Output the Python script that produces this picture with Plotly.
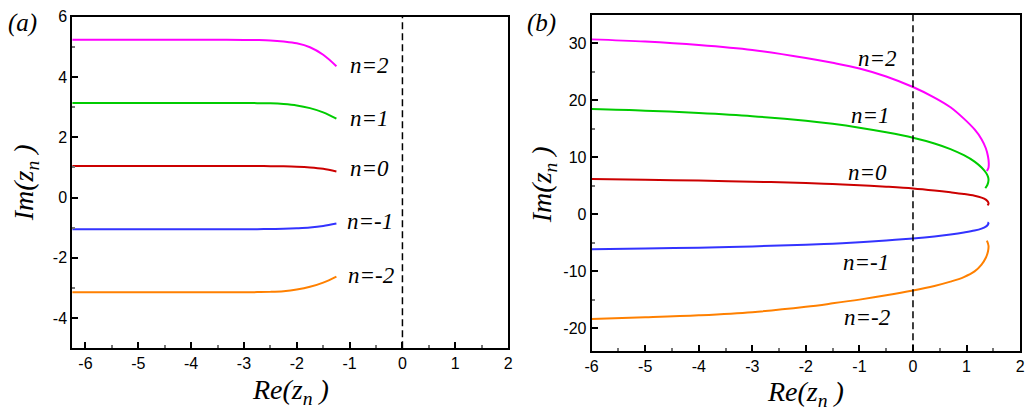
import plotly.graph_objects as go

W, H = 1034, 413

# ---------------- data: panel (a) ----------------
a_x = [-6.25, -5.5, -4.75, -4.0, -3.5, -3.0, -2.75, -2.5, -2.25, -2.0, -1.75, -1.5, -1.25]
a_n2 = [5.236, 5.236, 5.236, 5.236, 5.236, 5.233, 5.228, 5.215, 5.18, 5.12, 4.99, 4.74, 4.36]
a_n1 = [3.14, 3.14, 3.14, 3.14, 3.14, 3.139, 3.136, 3.128, 3.105, 3.06, 2.97, 2.83, 2.62]
a_n0 = [1.047, 1.047, 1.047, 1.047, 1.047, 1.047, 1.046, 1.044, 1.038, 1.025, 1.0, 0.955, 0.87]
a_nm1 = [-1.047, -1.047, -1.047, -1.047, -1.047, -1.047, -1.046, -1.043, -1.035, -1.017, -0.99, -0.94, -0.86]
a_nm2 = [-3.14, -3.14, -3.14, -3.14, -3.14, -3.139, -3.136, -3.128, -3.105, -3.05, -2.96, -2.82, -2.62]

# ---------------- data: panel (b) ----------------
b_n2_x = [-6.0, -5.0, -4.0, -3.0, -2.0, -1.5, -1.0, -0.5, 0.0, 0.4, 0.7, 0.95, 1.15, 1.28, 1.36, 1.40, 1.415, 1.41, 1.38]
b_n2_y = [30.7, 30.32, 29.72, 28.85, 27.45, 26.6, 25.6, 24.2, 22.35, 20.5, 18.8, 16.8, 14.9, 13.2, 11.6, 10.2, 9.0, 8.2, 7.6]

b_n1_x = [-6.0, -5.0, -4.0, -3.0, -2.0, -1.5, -1.0, -0.5, 0.0, 0.4, 0.7, 0.95, 1.15, 1.28, 1.36, 1.40, 1.41, 1.39, 1.35]
b_n1_y = [18.48, 18.2, 17.78, 17.23, 16.43, 15.88, 15.2, 14.4, 13.45, 12.45, 11.46, 10.38, 9.26, 8.22, 7.34, 6.62, 6.0, 5.2, 4.6]

b_n0_x = [-6.0, -5.0, -4.0, -3.0, -2.0, -1.5, -1.0, -0.5, 0.0, 0.4, 0.7, 0.95, 1.15, 1.28, 1.36, 1.40, 1.41, 1.39]
b_n0_y = [6.2, 6.08, 5.93, 5.74, 5.5, 5.34, 5.12, 4.86, 4.55, 4.2, 3.88, 3.58, 3.27, 2.95, 2.6, 2.2, 1.85, 1.6]

b_nm1_x = [-6.0, -5.0, -4.0, -3.0, -2.0, -1.5, -1.0, -0.5, 0.0, 0.4, 0.7, 0.95, 1.15, 1.28, 1.36, 1.40, 1.41, 1.39]
b_nm1_y = [-6.13, -6.0, -5.83, -5.61, -5.32, -5.13, -4.88, -4.58, -4.22, -3.86, -3.52, -3.18, -2.84, -2.5, -2.15, -1.8, -1.55, -1.42]

b_nm2_x = [-6.0, -5.0, -4.0, -3.0, -2.0, -1.5, -1.0, -0.5, 0.0, 0.4, 0.7, 0.95, 1.15, 1.28, 1.36, 1.40, 1.41, 1.38]
b_nm2_y = [-18.35, -18.06, -17.7, -17.15, -16.2, -15.6, -14.95, -14.2, -13.35, -12.55, -11.8, -11.0, -10.0, -8.8, -7.6, -6.5, -5.5, -4.6]

labels = ["n=2", "n=1", "n=0", "n=-1", "n=-2"]
a_lab_x = [-0.62, -0.62, -0.62, -0.62, -0.60]
a_lab_y = [4.37, 2.62, 0.98, -0.80, -2.57]
b_lab_x = [-0.67, -0.79, -0.85, -0.88, -0.85]
b_lab_y = [27.4, 17.3, 7.3, -8.4, -18.1]

a_xticks = [-6, -5, -4, -3, -2, -1, 0, 1, 2]
a_yticks = [-4, -2, 0, 2, 4, 6]
b_xticks = [-6, -5, -4, -3, -2, -1, 0, 1, 2]
b_yticks = [-20, -10, 0, 10, 20, 30]

colors = ["#ff00ff", "#00cc00", "#cc0000", "#3333ff", "#ff8000"]

fig = go.Figure()

for ys, c in zip([a_n2, a_n1, a_n0, a_nm1, a_nm2], colors):
    fig.add_trace(go.Scatter(x=a_x, y=ys, mode="lines", xaxis="x", yaxis="y",
                             line=dict(color=c, width=2, shape="spline", smoothing=1),
                             showlegend=False, hoverinfo="skip"))

for xs, ys, c in zip([b_n2_x, b_n1_x, b_n0_x, b_nm1_x, b_nm2_x],
                     [b_n2_y, b_n1_y, b_n0_y, b_nm1_y, b_nm2_y], colors):
    fig.add_trace(go.Scatter(x=xs, y=ys, mode="lines", xaxis="x2", yaxis="y2",
                             line=dict(color=c, width=2, shape="spline", smoothing=1),
                             showlegend=False, hoverinfo="skip"))

tickfont = dict(family="Liberation Sans", size=16, color="black")
common = dict(showline=True, linewidth=2, linecolor="black", mirror=True,
              showgrid=False, zeroline=False, ticks="inside", ticklen=6,
              tickwidth=1.5, tickcolor="black", tickfont=tickfont, fixedrange=True)


def px_x(p):
    return p / W


def px_y(p):
    return (H - p) / H


def tt(vals):
    return [str(v) for v in vals]


fig.update_layout(
    width=W, height=H, autosize=False,
    margin=dict(l=0, r=0, t=0, b=0),
    paper_bgcolor="white", plot_bgcolor="white",
    xaxis=dict(domain=[px_x(66), px_x(507)], range=[-6.25, 2],
               tickmode="array", tickvals=a_xticks, ticktext=tt(a_xticks),
               anchor="y", minor=dict(ticks="inside", ticklen=3, tickcolor="#777",
                                      tick0=0, dtick=0.5),
               **common),
    yaxis=dict(domain=[px_y(347), px_y(9)], range=[-5, 6],
               tickmode="array", tickvals=a_yticks, ticktext=tt(a_yticks),
               anchor="x", minor=dict(ticks="inside", ticklen=3, tickcolor="#777",
                                      tick0=0, dtick=1),
               **common),
    xaxis2=dict(domain=[px_x(591.5), px_x(1025)], range=[-6, 2],
                tickmode="array", tickvals=b_xticks, ticktext=tt(b_xticks),
                anchor="y2", minor=dict(ticks="inside", ticklen=3, tickcolor="#777",
                                        tick0=0, dtick=0.5),
                **common),
    yaxis2=dict(domain=[px_y(350), px_y(7)], range=[-24, 35],
                tickmode="array", tickvals=b_yticks, ticktext=tt(b_yticks),
                anchor="x2", minor=dict(ticks="inside", ticklen=3, tickcolor="#777",
                                        tick0=0, dtick=5),
                **common),
)

dash = "7px,4px"
fig.add_shape(type="line", xref="x", yref="y domain", x0=0, x1=0, y0=0, y1=1,
              line=dict(color="black", width=1.5, dash=dash))
fig.add_shape(type="line", xref="x2", yref="y2 domain", x0=0, x1=0, y0=0, y1=1,
              line=dict(color="black", width=1.5, dash=dash))

serif = "Liberation Serif, Times New Roman, serif"
lab_font = dict(family=serif, size=23, color="black", style="italic")
for t, x, y in zip(labels, a_lab_x, a_lab_y):
    fig.add_annotation(x=x, y=y, xref="x", yref="y", text=t,
                       showarrow=False, font=lab_font)
for t, x, y in zip(labels, b_lab_x, b_lab_y):
    fig.add_annotation(x=x, y=y, xref="x2", yref="y2", text=t,
                       showarrow=False, font=lab_font)

title_font = dict(family=serif, size=28, color="black", style="italic")
xt = "Re(z<sub>n</sub> )"
yt = "Im(z<sub>n</sub> )"
fig.add_annotation(x=px_x(287), y=px_y(391), xref="paper", yref="paper", text=xt,
                   showarrow=False, font=title_font, xanchor="center", yanchor="middle")
fig.add_annotation(x=px_x(808), y=px_y(393), xref="paper", yref="paper", text=xt,
                   showarrow=False, font=title_font, xanchor="center", yanchor="middle")
fig.add_annotation(x=px_x(19), y=px_y(178), xref="paper", yref="paper", text=yt,
                   showarrow=False, font=title_font, textangle=-90,
                   xanchor="center", yanchor="middle")
fig.add_annotation(x=px_x(543), y=px_y(180), xref="paper", yref="paper", text=yt,
                   showarrow=False, font=title_font, textangle=-90,
                   xanchor="center", yanchor="middle")

pan_font = dict(family=serif, size=25, color="black", style="italic")
fig.add_annotation(x=px_x(16), y=px_y(15), xref="paper", yref="paper", text="(a)",
                   showarrow=False, font=pan_font, xanchor="center", yanchor="middle")
fig.add_annotation(x=px_x(541), y=px_y(15), xref="paper", yref="paper", text="(b)",
                   showarrow=False, font=pan_font, xanchor="center", yanchor="middle")

fig.write_html("out.html")
